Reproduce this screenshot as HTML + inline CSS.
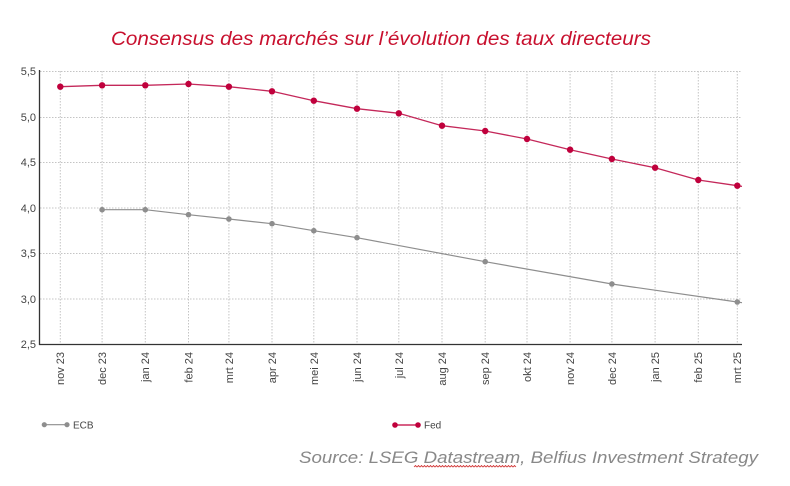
<!DOCTYPE html>
<html><head><meta charset="utf-8">
<style>
html,body{margin:0;padding:0;background:#fff;}
svg{display:block;}
text{font-family:"Liberation Sans",sans-serif;}
</style></head>
<body>
<svg width="790" height="486" viewBox="0 0 790 486" xmlns="http://www.w3.org/2000/svg">
<rect width="790" height="486" fill="#fff"/>
<!-- title -->
<text x="111" y="45" font-size="19" font-style="italic" fill="#c8102e" textLength="540" lengthAdjust="spacingAndGlyphs">Consensus des marchés sur l’évolution des taux directeurs</text>

<!-- horizontal grid -->
<g stroke="#c4c4c4" stroke-width="1" stroke-dasharray="1.5,1.5">
<line x1="40" y1="71.5" x2="742" y2="71.5"/>
<line x1="40" y1="117.5" x2="742" y2="117.5"/>
<line x1="40" y1="162.5" x2="742" y2="162.5"/>
<line x1="40" y1="208" x2="742" y2="208"/>
<line x1="40" y1="253.5" x2="742" y2="253.5"/>
<line x1="40" y1="299" x2="742" y2="299"/>
</g>
<!-- vertical grid -->
<g stroke="#c4c4c4" stroke-width="1" stroke-dasharray="1.5,1.5">
<line x1="60.3" y1="71" x2="60.3" y2="344"/>
<line x1="102.1" y1="71" x2="102.1" y2="344"/>
<line x1="145.3" y1="71" x2="145.3" y2="344"/>
<line x1="188.5" y1="71" x2="188.5" y2="344"/>
<line x1="228.9" y1="71" x2="228.9" y2="344"/>
<line x1="272" y1="71" x2="272" y2="344"/>
<line x1="313.8" y1="71" x2="313.8" y2="344"/>
<line x1="357" y1="71" x2="357" y2="344"/>
<line x1="398.8" y1="71" x2="398.8" y2="344"/>
<line x1="442" y1="71" x2="442" y2="344"/>
<line x1="485.2" y1="71" x2="485.2" y2="344"/>
<line x1="527" y1="71" x2="527" y2="344"/>
<line x1="570.1" y1="71" x2="570.1" y2="344"/>
<line x1="611.9" y1="71" x2="611.9" y2="344"/>
<line x1="655.1" y1="71" x2="655.1" y2="344"/>
<line x1="698.3" y1="71" x2="698.3" y2="344"/>
<line x1="737.3" y1="71" x2="737.3" y2="344"/>
</g>
<!-- axes -->
<line x1="39.5" y1="70" x2="39.5" y2="345" stroke="#333" stroke-width="1.3"/>
<line x1="39" y1="344.5" x2="742" y2="344.5" stroke="#333" stroke-width="1.3"/>

<!-- y labels -->
<g font-size="11" fill="#444" text-anchor="end">
<text x="36" y="75">5,5</text>
<text x="36" y="121">5,0</text>
<text x="36" y="166">4,5</text>
<text x="36" y="212">4,0</text>
<text x="36" y="257">3,5</text>
<text x="36" y="303">3,0</text>
<text x="36" y="348">2,5</text>
</g>

<!-- x labels -->
<g font-size="11" fill="#444" text-anchor="end">
<text transform="translate(64,352) rotate(-90)">nov 23</text>
<text transform="translate(106,352) rotate(-90)">dec 23</text>
<text transform="translate(149,352) rotate(-90)">jan 24</text>
<text transform="translate(192.5,352) rotate(-90)">feb 24</text>
<text transform="translate(233,352) rotate(-90)">mrt 24</text>
<text transform="translate(276,352) rotate(-90)">apr 24</text>
<text transform="translate(318,352) rotate(-90)">mei 24</text>
<text transform="translate(361,352) rotate(-90)">jun 24</text>
<text transform="translate(402.8,352) rotate(-90)">jul 24</text>
<text transform="translate(446,352) rotate(-90)">aug 24</text>
<text transform="translate(489,352) rotate(-90)">sep 24</text>
<text transform="translate(531,352) rotate(-90)">okt 24</text>
<text transform="translate(574,352) rotate(-90)">nov 24</text>
<text transform="translate(616,352) rotate(-90)">dec 24</text>
<text transform="translate(659,352) rotate(-90)">jan 25</text>
<text transform="translate(702,352) rotate(-90)">feb 25</text>
<text transform="translate(741,352) rotate(-90)">mrt 25</text>
</g>

<!-- ECB series -->
<polyline fill="none" stroke="#8e8e8e" stroke-width="1.2" points="102.1,209.7 145.3,209.7 188.5,214.7 228.9,219 272,223.7 313.8,230.7 357,237.7 485.2,261.7 611.9,284 737.3,302 742,302.7"/>
<g fill="#8e8e8e">
<circle cx="102.1" cy="209.7" r="2.8"/>
<circle cx="145.3" cy="209.7" r="2.8"/>
<circle cx="188.5" cy="214.7" r="2.8"/>
<circle cx="228.9" cy="219" r="2.8"/>
<circle cx="272" cy="223.7" r="2.8"/>
<circle cx="313.8" cy="230.7" r="2.8"/>
<circle cx="357" cy="237.7" r="2.8"/>
<circle cx="485.2" cy="261.7" r="2.8"/>
<circle cx="611.9" cy="284" r="2.8"/>
<circle cx="737.3" cy="302" r="2.8"/>
</g>

<!-- Fed series -->
<polyline fill="none" stroke="#c4285a" stroke-width="1.3" points="60.3,86.7 102.1,85.3 145.3,85.3 188.5,84 228.9,86.7 272,91.3 313.8,100.7 357,108.7 398.8,113.3 442,125.7 485.2,131 527,139 570.1,149.7 611.9,159 655.1,167.7 698.3,180 737.3,185.7 742,186.4"/>
<g fill="#c0003c">
<circle cx="60.3" cy="86.7" r="3.2"/>
<circle cx="102.1" cy="85.3" r="3.2"/>
<circle cx="145.3" cy="85.3" r="3.2"/>
<circle cx="188.5" cy="84" r="3.2"/>
<circle cx="228.9" cy="86.7" r="3.2"/>
<circle cx="272" cy="91.3" r="3.2"/>
<circle cx="313.8" cy="100.7" r="3.2"/>
<circle cx="357" cy="108.7" r="3.2"/>
<circle cx="398.8" cy="113.3" r="3.2"/>
<circle cx="442" cy="125.7" r="3.2"/>
<circle cx="485.2" cy="131" r="3.2"/>
<circle cx="527" cy="139" r="3.2"/>
<circle cx="570.1" cy="149.7" r="3.2"/>
<circle cx="611.9" cy="159" r="3.2"/>
<circle cx="655.1" cy="167.7" r="3.2"/>
<circle cx="698.3" cy="180" r="3.2"/>
<circle cx="737.3" cy="185.7" r="3.2"/>
</g>

<!-- legend -->
<line x1="44.3" y1="424.7" x2="67" y2="424.7" stroke="#8e8e8e" stroke-width="1.2"/>
<circle cx="44.3" cy="424.7" r="2.6" fill="#8e8e8e"/>
<circle cx="67" cy="424.7" r="2.6" fill="#8e8e8e"/>
<text x="73" y="428.5" font-size="10" fill="#444">ECB</text>

<line x1="395" y1="425" x2="418" y2="425" stroke="#c0003c" stroke-width="1.3"/>
<circle cx="395" cy="425" r="2.8" fill="#c0003c"/>
<circle cx="418" cy="425" r="2.8" fill="#c0003c"/>
<text x="424" y="428.5" font-size="10" fill="#444">Fed</text>

<!-- source -->
<text x="299" y="463" font-size="17" font-style="italic" fill="#888" textLength="459" lengthAdjust="spacingAndGlyphs">Source: LSEG Datastream, Belfius Investment Strategy</text>
<path d="M414,467 l1.5,-1.5 l1.5,1.5 l1.5,-1.5 l1.5,1.5 l1.5,-1.5 l1.5,1.5 l1.5,-1.5 l1.5,1.5 l1.5,-1.5 l1.5,1.5 l1.5,-1.5 l1.5,1.5 l1.5,-1.5 l1.5,1.5 l1.5,-1.5 l1.5,1.5 l1.5,-1.5 l1.5,1.5 l1.5,-1.5 l1.5,1.5 l1.5,-1.5 l1.5,1.5 l1.5,-1.5 l1.5,1.5 l1.5,-1.5 l1.5,1.5 l1.5,-1.5 l1.5,1.5 l1.5,-1.5 l1.5,1.5 l1.5,-1.5 l1.5,1.5 l1.5,-1.5 l1.5,1.5 l1.5,-1.5 l1.5,1.5 l1.5,-1.5 l1.5,1.5 l1.5,-1.5 l1.5,1.5 l1.5,-1.5 l1.5,1.5 l1.5,-1.5 l1.5,1.5 l1.5,-1.5 l1.5,1.5 l1.5,-1.5 l1.5,1.5 l1.5,-1.5 l1.5,1.5 l1.5,-1.5 l1.5,1.5 l1.5,-1.5 l1.5,1.5 l1.5,-1.5 l1.5,1.5 l1.5,-1.5 l1.5,1.5 l1.5,-1.5 l1.5,1.5 l1.5,-1.5 l1.5,1.5 l1.5,-1.5 l1.5,1.5 l1.5,-1.5 l1.5,1.5 l1.5,-1.5 l1.5,1.5" fill="none" stroke="#d03030" stroke-width="0.8"/>
</svg>
</body></html>
